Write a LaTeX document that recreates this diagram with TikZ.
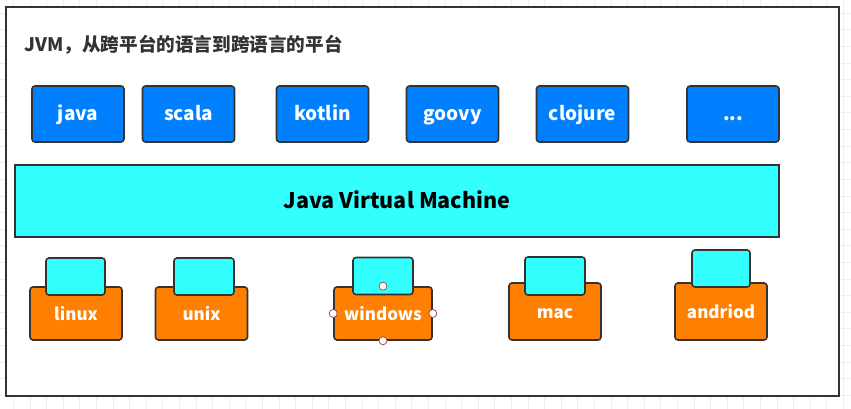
\documentclass[tikz,border=0pt]{standalone}
\usepackage{fontspec}
\setmainfont{Noto Sans CJK SC}
\usepackage{tikz}

\definecolor{langblue}{HTML}{0080FF}
\definecolor{vmcyan}{HTML}{33FFFF}
\definecolor{osorange}{HTML}{FF8000}
\definecolor{edgegray}{HTML}{333333}
\definecolor{gridgray}{HTML}{EEEEEE}
\definecolor{handlered}{HTML}{A04040}

\tikzset{
  box/.style={draw=edgegray, line width=1.6pt, rounded corners=3pt, inner sep=0pt},
  lang/.style={box, fill=langblue, minimum width=92pt, minimum height=56pt,
    text height=13pt, text depth=0pt, text=white, font=\fontsize{19}{19}\selectfont\bfseries},
  vm/.style={box, rounded corners=0pt, fill=vmcyan, minimum width=764pt, minimum height=72pt,
    text height=14.6pt, text depth=0pt, font=\fontsize{21.5}{21.5}\selectfont\bfseries},
  os/.style={box, fill=osorange, minimum width=92pt, minimum height=53pt,
    text height=13pt, text depth=0pt, text=white, font=\fontsize{17}{17}\selectfont\bfseries},
  tab/.style={box, fill=vmcyan, minimum width=59pt, minimum height=37pt},
  handle/.style={draw=handlered, fill=white, circle, line width=0.7pt, minimum size=8pt, inner sep=0pt}
}

\begin{document}
\begin{tikzpicture}[x=1pt, y=-1pt]

    \useasboundingbox (0,0) rectangle (851,409);

    % canvas
    \foreach \gx in {13.3,29.9,...,850}
             { \draw[gridgray, line width=0.8pt] (\gx,0) -- (\gx,409);}
    \foreach \gy in {13.3,29.9,...,408}
             { \draw[gridgray, line width=0.8pt] (0,\gy) -- (851,\gy);}
    \draw[edgegray, line width=2pt, fill=white] (6,7) rectangle (839,396);

    \node (title) at (21,45) [anchor=west, text=edgegray, font=\fontsize{18.6}{18.6}\selectfont\bfseries]
          {JVM，从跨平台的语言到跨语言的平台};

    % languages
    \foreach \name/\x in {java/78, scala/188.5, kotlin/322.5, goovy/452.5, clojure/582.5}
             { \node (\name) at (\x,114) [lang] {\name};}
    \node (more) at (733,114) [lang] {...};

    % vm
    \node (jvm) at (397,201) [vm] {Java Virtual Machine};

    % platforms
    \node (linux) at (76,313.5) [os] {linux};
    \node (unix) at (201.5,313.5) [os] {unix};
    \node (windows) at (383,313.5) [os, minimum width=98pt] {windows};
    \node (mac) at (555,311.5) [os, minimum height=57pt] {mac};
    \node (andriod) at (721,311.5) [os, minimum height=57pt] {andriod};

    \node (linuxtab) at (75.5,276.5) [tab] {};
    \node (unixtab) at (204,276.5) [tab, minimum width=60pt] {};
    \node (windowstab) at (383,276) [tab, minimum width=60pt] {};
    \node (mactab) at (555,276) [tab, minimum width=60pt, minimum height=38pt] {};
    \node (andriodtab) at (721,268.5) [tab, minimum width=58pt] {};

    \foreach \a in {north,south,west,east}
             { \node (h\a) at (windows.\a) [handle] {};}

\end{tikzpicture}
\end{document}
